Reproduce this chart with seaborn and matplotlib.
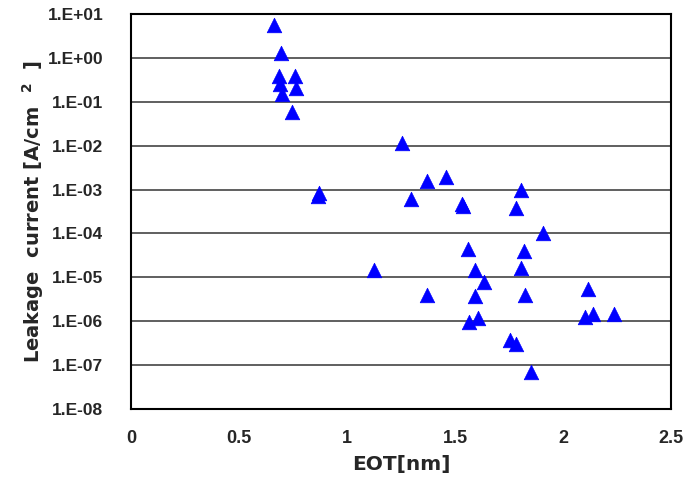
import matplotlib
matplotlib.use("Agg")
import matplotlib.pyplot as plt
import matplotlib.ticker as mticker
import seaborn as sns
import pandas as pd

eot = [0.662, 0.694, 0.685, 0.690, 0.700, 0.760, 0.764, 0.745,
       1.255, 1.369, 1.457, 0.871, 0.865, 1.296, 1.531, 1.535, 1.806, 1.782,
       1.907, 1.558, 1.818, 1.125, 1.593, 1.806, 1.636, 1.369, 1.594, 1.826,
       2.114, 2.104, 2.140, 2.234, 1.563, 1.606, 1.753, 1.784, 1.853]
leak = [5.6, 1.29, 0.38, 0.25, 0.148, 0.38, 0.204, 0.058,
        0.0114, 1.6e-3, 1.96e-3, 8.2e-4, 7.0e-4, 6.0e-4, 4.6e-4, 4.2e-4, 1.0e-3, 3.9e-4,
        1.04e-4, 4.5e-5, 4.0e-5, 1.44e-5, 1.5e-5, 1.65e-5, 7.8e-6, 4.0e-6, 3.7e-6, 4.0e-6,
        5.5e-6, 1.28e-6, 1.44e-6, 1.44e-6, 9.6e-7, 1.2e-6, 3.8e-7, 3.1e-7, 7.1e-8]
x_ticks = [0, 0.5, 1, 1.5, 2, 2.5]
x_tick_labels = ["0", "0.5", "1", "1.5", "2", "2.5"]
y_ticks = [1e1, 1e0, 1e-1, 1e-2, 1e-3, 1e-4, 1e-5, 1e-6, 1e-7, 1e-8]
y_tick_labels = ["1.E+01", "1.E+00", "1.E-01", "1.E-02", "1.E-03", "1.E-04",
                 "1.E-05", "1.E-06", "1.E-07", "1.E-08"]

df = pd.DataFrame({"EOT": eot, "Leak": leak})

sns.set_style("white")
plt.rcParams['font.family'] = ['DejaVu Sans', 'Noto Sans CJK JP']
plt.rcParams['mathtext.fontset'] = 'dejavusans'

fig = plt.figure(figsize=(6.87, 4.87), dpi=100)
ax = fig.add_axes([131/687, 1-409/487, 540/687, 395/487])

sns.scatterplot(data=df, x="EOT", y="Leak", marker="^", s=110, color="#0000FF",
                edgecolor="#0000FF", linewidth=0.5, ax=ax, zorder=3)
ax.set_yscale("log")
ax.set_xlim(0, 2.5)
ax.set_ylim(1e-8, 1e1)
ax.set_xticks(x_ticks)
ax.set_xticklabels(x_tick_labels)
ax.set_yticks(y_ticks)
ax.set_yticklabels(y_tick_labels)
ax.yaxis.set_minor_locator(mticker.NullLocator())
ax.tick_params(axis="x", direction="in", length=5, width=1, color="black",
               labelsize=13, pad=15)
ax.tick_params(axis="y", length=0, labelsize=12.5, pad=20)
for lab in ax.get_xticklabels() + ax.get_yticklabels():
    lab.set_fontweight("bold")
    lab.set_fontfamily(["Liberation Sans", "DejaVu Sans"])
ax.grid(axis="y", which="major", color="#444444", linewidth=1.2)
ax.grid(axis="x", visible=False)
for sp in ax.spines.values():
    sp.set_visible(True)
    sp.set_color("black")
    sp.set_linewidth(1.5)

ax.set_xlabel("EOT[nm]", fontsize=14.5, fontweight="bold", labelpad=6)
ax.set_ylabel(r"Leakage  current [A/cm  $^{\mathbf{2}}$  ]", fontsize=14,
              fontweight="bold", labelpad=1)

fig.savefig("out.png", dpi=100)
